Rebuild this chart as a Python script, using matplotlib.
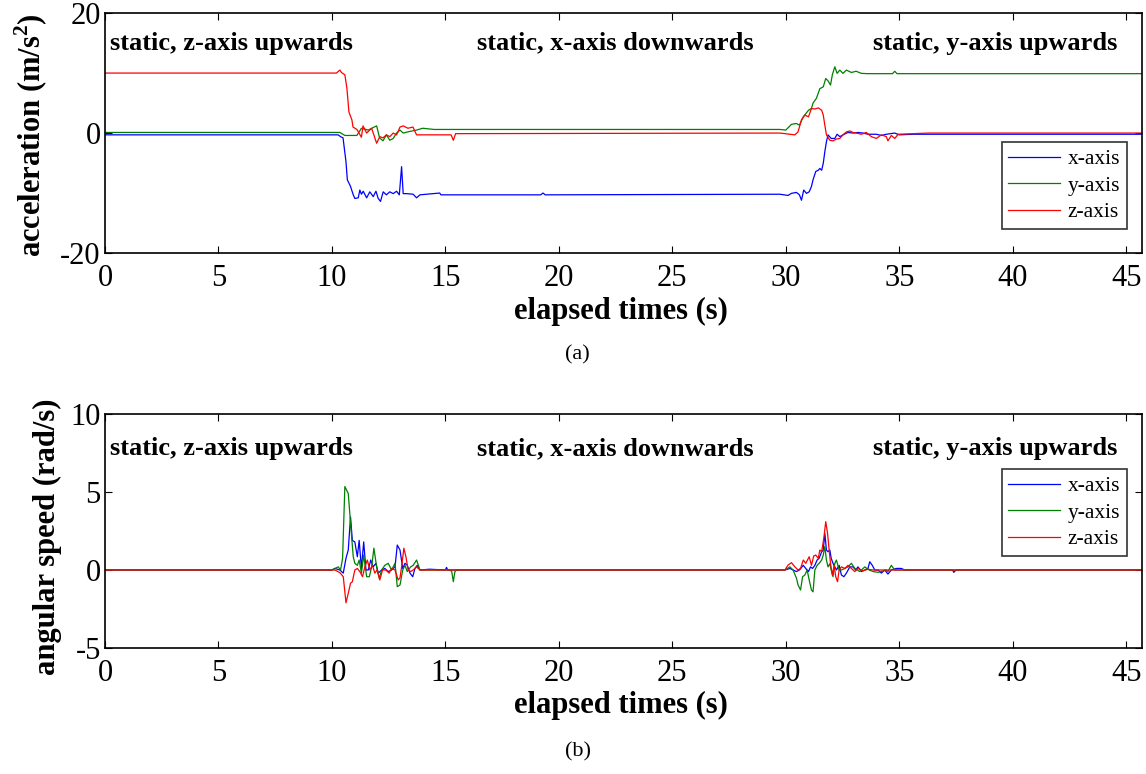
import numpy as np
import matplotlib
matplotlib.use('Agg')
import matplotlib.pyplot as plt

plt.rcParams['font.family'] = ['Liberation Serif', 'DejaVu Serif']
plt.rcParams['mathtext.fontset'] = 'custom'
plt.rcParams['mathtext.rm'] = 'Liberation Serif'
plt.rcParams['mathtext.bf'] = 'Liberation Serif:bold'
plt.rcParams['axes.unicode_minus'] = False

# ---- (a) acceleration (time s, value m/s^2) ----
acc_x_t = [0, 10.13, 10.27, 10.38, 10.49, 10.62, 10.68, 10.82, 10.94, 11.01, 11.16, 11.23, 11.3,
           11.38, 11.53, 11.67, 11.82, 11.94, 12.04, 12.14, 12.26, 12.4, 12.55, 12.7, 12.85, 12.97,
           13.07, 13.14, 13.29, 13.58, 13.73, 13.88, 14.75, 14.8, 15.3, 19.2, 19.3, 19.4, 29.74,
           30.1, 30.25, 30.47, 30.6, 30.69, 30.79, 30.91, 31.03, 31.13, 31.2, 31.32, 31.43, 31.5,
           31.58, 31.65, 31.72, 31.79, 31.86, 32.0, 32.16, 32.26, 32.38, 32.52, 32.74, 32.96, 33.18,
           33.4, 33.62, 33.99, 34.21, 34.43, 34.8, 35.0, 35.6, 45.7]
acc_x = [-0.3, -0.3, -0.3, -0.6, -0.8, -4.8, -7.8, -8.9, -10.3, -10.9, -10.8, -9.5, -10.2,
         -9.7, -10.8, -9.8, -10.6, -9.7, -10.9, -11.4, -9.8, -10.3, -9.8, -10.1, -9.7, -10.3,
         -5.6, -10.1, -10.1, -10.2, -10.8, -10.3, -10.0, -10.3, -10.3, -10.3, -10.0, -10.3, -10.2,
         -10.4, -10.05, -9.9, -10.3, -11.2, -9.5, -10.05, -9.8, -8.9, -7.8, -6.4, -6.2, -5.9,
         -6.2, -5.05, -3.1, -1.45, -0.3, -0.9, -0.9, -0.2, -0.6, -0.3, 0.1, 0.0, 0.1,
         0.0, -0.2, -0.2, -0.4, -0.2, 0.0, -0.3, -0.2, -0.2]

acc_y_t = [0, 10.35, 10.57, 11.1, 11.3, 11.6, 11.97, 12.1, 12.25, 12.4, 12.55, 12.7, 12.85, 13.0,
           13.14, 13.35, 13.73, 14.0, 14.5, 29.74, 30.0, 30.25, 30.47, 30.6, 30.77, 31.0, 31.13,
           31.2, 31.35, 31.5, 31.65, 31.76, 31.86, 31.97, 32.05, 32.16, 32.26, 32.38, 32.52, 32.67,
           32.89, 33.1, 33.33, 33.6, 34.7, 34.8, 34.9, 45.7]
acc_y = [0.1, 0.1, -0.4, -0.4, 0.8, 0.5, 1.2, -0.8, -1.3, -0.3, -1.2, -0.9, 0.0, 0.5,
         0.0, 0.2, 0.5, 0.8, 0.6, 0.6, 0.5, 1.45, 1.6, 1.3, 2.7, 3.8, 4.1,
         5.0, 5.8, 7.4, 7.7, 9.1, 8.7, 8.0, 9.7, 11.05, 9.95, 10.5, 9.95, 10.5,
         10.1, 10.3, 9.95, 9.9, 9.9, 10.3, 9.9, 9.9]

acc_z_t = [0, 10.2, 10.35, 10.42, 10.57, 10.66, 10.75, 10.88, 10.93, 11.1, 11.3, 11.37, 11.53,
           11.75, 11.97, 12.11, 12.25, 12.4, 12.55, 12.7, 12.85, 13.0, 13.14, 13.35, 13.57, 13.73,
           15.25, 15.35, 15.45, 29.74, 30.18, 30.4, 30.54, 30.69, 30.84, 31.0, 31.13, 31.28, 31.43,
           31.58, 31.65, 31.72, 31.79, 31.94, 32.08, 32.23, 32.38, 32.52, 32.67, 32.82, 32.96,
           33.1, 33.33, 33.55, 33.77, 33.99, 34.21, 34.43, 34.5, 34.65, 34.8, 34.95, 36.3, 45.7]
acc_z = [10.0, 10.0, 10.5, 10.1, 9.7, 7.5, 3.5, 2.2, 1.0, 0.6, -0.7, 1.2, 0.0,
         0.8, -1.7, -0.6, -0.8, -0.3, -0.6, 0.0, -0.3, 1.0, 1.2, 0.8, 1.0, -0.3,
         -0.3, -1.2, -0.1, 0.0, -0.2, -0.3, 0.2, 2.2, 3.0, 2.7, 4.1, 4.0, 4.2,
         3.8, 3.0, 1.3, -0.3, -1.2, -1.3, -1.0, -0.9, -0.3, 0.2, 0.35, 0.1,
         0.0, -0.2, 0.1, -0.6, -0.9, -0.3, -0.6, -1.3, -0.4, -0.9, -0.2, 0.0, 0.0]

# ---- (b) angular speed (time s, value rad/s) ----
gyr_x_t = [0, 10.0, 10.13, 10.35, 10.5, 10.62, 10.72, 10.82, 10.9, 11.01, 11.12, 11.2, 11.3, 11.4,
           11.5, 11.6, 11.71, 11.82, 11.94, 12.04, 12.19, 12.33, 12.48, 12.63, 12.78, 12.88, 13.0,
           13.12, 13.22, 13.32, 13.44, 13.56, 13.66, 13.76, 13.88, 14.3, 15.0, 15.05, 15.1, 29.96,
           30.18, 30.32, 30.47, 30.6, 30.77, 30.88, 31.0, 31.09, 31.18, 31.28, 31.38, 31.47, 31.58,
           31.65, 31.72, 31.79, 31.86, 31.94, 32.0, 32.08, 32.16, 32.23, 32.35, 32.45, 32.56, 32.67,
           32.82, 32.96, 33.08, 33.18, 33.33, 33.48, 33.62, 33.7, 33.81, 33.92, 34.07, 34.21, 34.36,
           34.5, 34.65, 34.87, 35.09, 35.24, 37.35, 37.4, 37.5, 45.7]
gyr_x = [0, 0, 0.1, 0, -0.2, 0.75, 1.28, 3.4, 1.9, 1.8, 0.85, 1.9, 0.1, 1.8,
         0, 0, 0.64, 0.2, 0.43, -0.2, 0, 0.1, -0.1, 0, 0.2, 1.6, 1.28,
         0.1, 0.43, 0.3, -0.2, -0.43, 0.1, 0.3, 0, 0.05, 0, 0.17, 0, 0,
         0.1, 0, -0.1, 0, 0.3, 0.1, -0.1, 0.2, 0.1, 0.3, 0.64, 0.75, 1.17,
         1.28, 2.35, 1.28, 1.17, 1.28, 0.75, 0.43, 0.2, 0, 0.3, -0.32, -0.43, -0.2,
         0.2, 0.2, 0, 0.2, -0.1, 0, 0.1, 0.53, 0.3, 0, 0, -0.2, 0,
         -0.26, 0, 0.1, 0.1, 0, 0, -0.15, 0, 0]

gyr_y_t = [0, 10.0, 10.13, 10.28, 10.38, 10.47, 10.57, 10.72, 10.87, 10.94, 11.01, 11.12, 11.2,
           11.3, 11.4, 11.53, 11.65, 11.75, 11.85, 11.97, 12.09, 12.19, 12.33, 12.48, 12.63, 12.78,
           12.88, 13.0, 13.12, 13.22, 13.32, 13.47, 13.58, 13.73, 13.88, 15.2, 15.28, 15.35, 15.42,
           15.5, 29.96, 30.18, 30.32, 30.47, 30.54, 30.65, 30.74, 30.84, 30.94, 31.03, 31.13, 31.2,
           31.28, 31.38, 31.47, 31.58, 31.65, 31.72, 31.79, 31.86, 31.94, 32.0, 32.08, 32.16, 32.23,
           32.35, 32.45, 32.6, 32.74, 32.89, 33.04, 33.26, 33.48, 33.67, 33.85, 34.07, 34.43, 34.5,
           34.65, 34.8, 45.7]
gyr_y = [0, 0, 0.1, 0.2, 0, 0.75, 5.35, 4.9, 2.1, 0.85, 0.43, 0.3, 0.64,
         -0.2, 0.96, -0.43, -0.43, 0.2, 1.4, 0.2, -0.53, 0, 0.3, 0.43, 0, 0.43,
         -1.07, -0.96, 0, 0.3, -0.1, 0.2, 0.3, 0.64, 0, 0, -0.1, -0.75, -0.1,
         0, 0, 0.2, 0, -0.53, -0.96, -1.28, -0.43, -0.32, 0, -0.64, -1.28, -1.4,
         0, 0.3, 0.43, 0.64, 0.96, 1.5, 0.64, 0.2, 0.4, 0, -0.43, 0.43, 0.64,
         0, 0, 0.1, 0.2, 0.43, 0.1, -0.1, 0.2, 0, -0.1, -0.15, 0, -0.1,
         0.3, 0, 0]

gyr_z_t = [0, 10.13, 10.35, 10.5, 10.62, 10.72, 10.82, 10.9, 11.01, 11.12, 11.23, 11.35, 11.45,
           11.56, 11.67, 11.79, 11.89, 11.99, 12.11, 12.23, 12.38, 12.52, 12.63, 12.78, 12.92, 13.0,
           13.07, 13.17, 13.26, 13.36, 13.47, 13.58, 13.73, 13.88, 29.96, 30.1, 30.25, 30.4, 30.54,
           30.65, 30.77, 30.88, 31.03, 31.13, 31.23, 31.32, 31.43, 31.5, 31.58, 31.68, 31.76, 31.84,
           31.91, 31.97, 32.05, 32.13, 32.2, 32.28, 32.35, 32.45, 32.6, 32.74, 32.89, 33.04, 33.18,
           33.4, 33.62, 33.85, 45.7]
gyr_z = [0, 0, -0.17, -0.43, -2.1, -1.5, -0.85, -0.75, 0, 0.1, -0.1, -0.43, 0.2,
         0.64, 0, 0.3, -0.2, 0, -0.64, 0, 0, -0.2, 0.1, 0, -0.64, -0.5,
         0.2, 1.4, 0.85, 0, -0.1, 0, 0.2, 0, 0, 0.32, 0.47, 0.2, 0,
         0.1, 0.64, 0.43, 0.85, 0.3, 0.9, 0.96, 0.75, 1.28, 1.17, 2.1, 3.1, 2.35,
         1.28, 0.43, -0.32, 0.3, -0.43, -0.75, 0, 0.2, 0.1, 0.3, 0.1, -0.1, 0.1,
         -0.05, 0.05, 0, 0]

labels = ['x-axis', 'y-axis', 'z-axis']
colors = ['#0000ff', '#008000', '#ff0000']
notes = ['static, z-axis upwards', 'static, x-axis downwards', 'static, y-axis upwards']

fig = plt.figure(figsize=(11.46, 7.74), dpi=100)
ax1 = fig.add_axes([0.0916, 0.6731, 0.905, 0.310])
ax2 = fig.add_axes([0.0916, 0.1628, 0.905, 0.3023])

ax1.plot(acc_x_t, acc_x, color=colors[0], lw=0.9, label=labels[0])
ax1.plot(acc_y_t, acc_y, color=colors[1], lw=0.9, label=labels[1])
ax1.plot(acc_z_t, acc_z, color=colors[2], lw=0.9, label=labels[2])
ax1.set_ylim(-20, 20)
ax1.set_yticks([-20, 0, 20])

ax2.plot(gyr_x_t, gyr_x, color=colors[0], lw=0.9, label=labels[0])
ax2.plot(gyr_y_t, gyr_y, color=colors[1], lw=0.9, label=labels[1])
ax2.plot(gyr_z_t, gyr_z, color=colors[2], lw=0.9, label=labels[2])
ax2.set_ylim(-5, 10)
ax2.set_yticks([-5, 0, 5, 10])

for ax, ny, legy in [(ax1, 15.0, 0.1), (ax2, 7.8, 0.393)]:
    ax.set_xlim(0, 45.7)
    ax.set_xticks(range(0, 46, 5))
    ax.tick_params(direction='in', top=True, right=True, labelsize=22, length=5)
    ax.tick_params(axis='x', pad=8)
    ax.tick_params(axis='y', pad=3)
    for s in ax.spines.values():
        s.set_linewidth(1.2)
    ax.text(0.2, ny, notes[0], fontsize=19, fontweight='bold', va='center', ha='left')
    ax.text(22.5, ny, notes[1], fontsize=19, fontweight='bold', va='center', ha='center')
    ax.text(44.6, ny, notes[2], fontsize=19, fontweight='bold', va='center', ha='right')
    leg = ax.legend(loc='lower right', bbox_to_anchor=(0.9855, legy), fontsize=15.5, frameon=True,
                    fancybox=False, edgecolor='black', handlelength=2.4, borderpad=0.32,
                    labelspacing=0.3, handletextpad=0.35, borderaxespad=0)
    leg.get_frame().set_linewidth(1.2)

fig.text(0.542, 0.597, 'elapsed times (s)', fontsize=22, fontweight='bold', ha='center', va='center')
fig.text(0.542, 0.088, 'elapsed times (s)', fontsize=22, fontweight='bold', ha='center', va='center')
fig.text(0.027, 0.826, r'acceleration (m/s$^{\mathbf{2}}$)', fontsize=22, fontweight='bold',
         rotation=90, ha='center', va='center')
fig.text(0.041, 0.306, 'angular speed (rad/s)', fontsize=22, fontweight='bold',
         rotation=90, ha='center', va='center')
fig.text(0.504, 0.541, '(a)', fontsize=16, ha='center', va='center')
fig.text(0.504, 0.028, '(b)', fontsize=16, ha='center', va='center')

fig.savefig('out.png', dpi=100)
